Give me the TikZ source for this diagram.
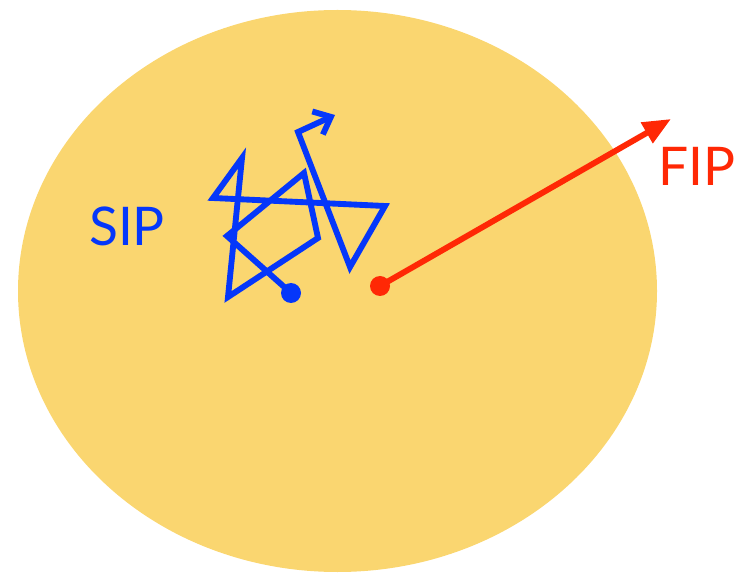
\documentclass[tikz,border=0pt]{standalone}
\usepackage{fontspec}
\setmainfont{Lato}
\usetikzlibrary{arrows.meta,positioning}
\definecolor{SunYellow}{RGB}{250,214,112}
\definecolor{WalkBlue}{RGB}{5,55,250}
\definecolor{FlightRed}{RGB}{255,40,5}

\begin{document}
\begin{tikzpicture}[x=0.75pt,y=-0.75pt,>=Latex]
      \useasboundingbox (0,0) rectangle (735,573);
      \fill[SunYellow] (337.5,291) ellipse [x radius=319.5,y radius=281];
      % random walk
      \coordinate (S) at (291,293);
      \coordinate (P1) at (227,236);
      \coordinate (P2) at (304,173);
      \coordinate (P3) at (318,238);
      \coordinate (P4) at (228,297);
      \coordinate (P5) at (242,158);
      \coordinate (P6) at (213,198);
      \coordinate (P7) at (385,206);
      \coordinate (P8) at (350,267);
      \coordinate (P9) at (298,132);
      \coordinate (E) at (335,115);
      \draw[-{Straight Barb[length=11pt,width=19pt]},line width=4.4pt,WalkBlue,line join=miter]
        (S)--(P1)--(P2)--(P3)--(P4)--(P5)--(P6)--(P7)--(P8)--(P9)--(E);
      \fill[WalkBlue] (S) circle (10);
      % straight flight
      \coordinate (F) at (380,286);
      \coordinate (T) at (671,119);
      \draw[-{Triangle[length=21pt,width=17pt]},line width=4.4pt,FlightRed] (F)--(T);
      \fill[FlightRed] (F) circle (10);
      \node[WalkBlue,font=\fontsize{40}{40}\selectfont] (sip) at (127,226) {SIP};
      \node[FlightRed,font=\fontsize{40}{40}\selectfont] (fip) at (697,166) {FIP};
    \end{tikzpicture}
\end{document}
